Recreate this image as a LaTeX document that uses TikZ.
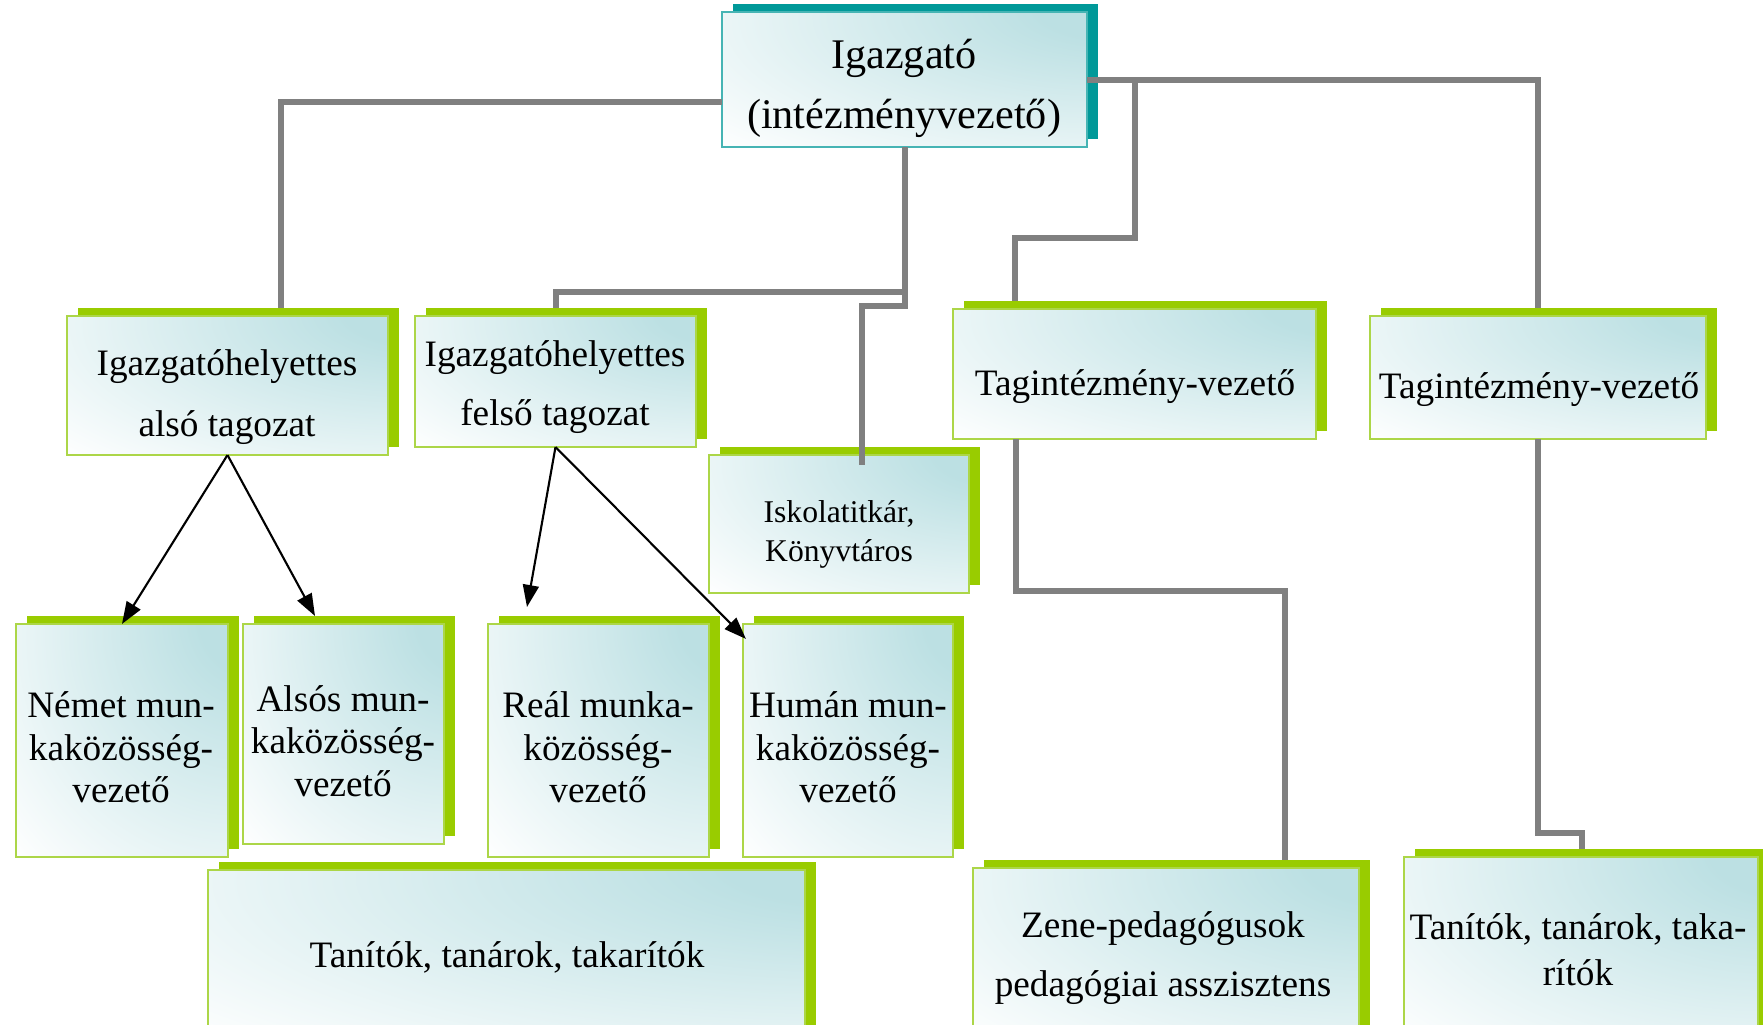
\documentclass[tikz,border=0pt]{standalone}
\usepackage{fontspec}
\setmainfont{Liberation Serif}
\usetikzlibrary{arrows.meta,calc}
\definecolor{shgreen}{HTML}{99CC00}
\definecolor{edgegreen}{RGB}{172,214,72}
\definecolor{shteal}{HTML}{009999}
\definecolor{edgeteal}{RGB}{70,180,180}
\definecolor{tealfill}{RGB}{188,224,227}
\definecolor{linegray}{HTML}{808080}
\pgfdeclareradialshading{boxshade}{\pgfpoint{32bp}{28bp}}{color(0bp)=(tealfill); color(12bp)=(tealfill); color(66bp)=(white); color(220bp)=(white)}
\tikzset{
  frontbox/.style={shade, shading=boxshade, line width=0.7pt, inner sep=0pt, outer sep=0pt},
  shadowbox/.style={inner sep=0pt, outer sep=0pt},
  conn/.style={draw=linegray, line width=0.06cm, line join=miter},
  arr/.style={-{Triangle[length=0.22cm,width=0.16cm]}, line width=0.6pt, black},
  lbl/.style={anchor=base, inner sep=0pt, font=\fontsize{10.6}{12}\selectfont},
  lblbig/.style={lbl, font=\fontsize{12}{14}\selectfont},
  lblsmall/.style={lbl, font=\fontsize{9}{11}\selectfont}
}
% #1 name, #2 x1, #3 y1, #4 x2, #5 y2, #6 shadow colour, #7 edge colour
\newcommand\orgbox[7]{%
  \pgfmathsetmacro\bw{(#4-#2)/100}%
  \pgfmathsetmacro\bh{(#5-#3)/100}%
  \node[shadowbox, fill=#6, minimum width=\bw cm, minimum height=\bh cm] (#1-sh) at ({(#2+#4)/2+11},{(#3+#5)/2-8}) {};
  \node[frontbox, draw=#7, minimum width=\bw cm, minimum height=\bh cm] (#1) at ({(#2+#4)/2},{(#3+#5)/2}) {};
}
\begin{document}
\begin{tikzpicture}[x=0.01cm, y=-0.01cm]
\useasboundingbox (0,0) rectangle (1763,1025);
\clip (0,0) rectangle (1763,1025);

% boxes
\orgbox{igaz}{722}{12}{1087}{147}{shteal}{edgeteal}
\orgbox{ighA}{67}{316}{388}{455}{shgreen}{edgegreen}
\orgbox{ighF}{415}{316}{696}{447}{shgreen}{edgegreen}
\orgbox{isk}{709}{455}{969}{593}{shgreen}{edgegreen}
\orgbox{tagA}{953}{309}{1316}{439}{shgreen}{edgegreen}
\orgbox{tagB}{1370}{316}{1706}{439}{shgreen}{edgegreen}
\orgbox{nemet}{16}{624}{228}{857}{shgreen}{edgegreen}
\orgbox{alsos}{243}{624}{444}{844}{shgreen}{edgegreen}
\orgbox{real}{488}{624}{709}{857}{shgreen}{edgegreen}
\orgbox{human}{743}{624}{953}{857}{shgreen}{edgegreen}
\orgbox{tanB}{208}{870}{805}{1045}{shgreen}{edgegreen}
\orgbox{zene}{973}{868}{1359}{1045}{shgreen}{edgegreen}
\orgbox{tanR}{1404}{857}{1758}{1045}{shgreen}{edgegreen}

% texts
\node[lblbig] (t-igaz1) at (904,69) {Igazgató};
\node[lblbig] (t-igaz2) at (904,129) {(intézményvezető)};
\node[lbl] (t-ighA1) at (227,376) {Igazgatóhelyettes};
\node[lbl] (t-ighA2) at (227,437) {alsó tagozat};
\node[lbl] (t-ighF1) at (555,367) {Igazgatóhelyettes};
\node[lbl] (t-ighF2) at (555,426) {felső tagozat};
\node[lblsmall] (t-isk1) at (839,523) {Iskolatitkár,};
\node[lblsmall] (t-isk2) at (839,562) {Könyvtáros};
\node[lbl] (t-tagA) at (1135,396) {Tagintézmény-vezető};
\node[lbl] (t-tagB) at (1539,399) {Tagintézmény-vezető};
\node[lbl] (t-nem1) at (121,718) {Német mun-};
\node[lbl] (t-nem2) at (121,761) {kaközösség-};
\node[lbl] (t-nem3) at (121,803) {vezető};
\node[lbl] (t-als1) at (343,712) {Alsós mun-};
\node[lbl] (t-als2) at (343,754) {kaközösség-};
\node[lbl] (t-als3) at (343,797) {vezető};
\node[lbl] (t-rea1) at (598,718) {Reál munka-};
\node[lbl] (t-rea2) at (598,761) {közösség-};
\node[lbl] (t-rea3) at (598,803) {vezető};
\node[lbl] (t-hum1) at (848,718) {Humán mun-};
\node[lbl] (t-hum2) at (848,761) {kaközösség-};
\node[lbl] (t-hum3) at (848,803) {vezető};
\node[lbl] (t-tanB) at (507,968) {Tanítók, tanárok, takarítók};
\node[lbl] (t-zene1) at (1163,938) {Zene-pedagógusok};
\node[lbl] (t-zene2) at (1163,997) {pedagógiai asszisztens};
\node[lbl] (t-tanR1) at (1578,940) {Tanítók, tanárok, taka-};
\node[lbl] (t-tanR2) at (1578,985) {rítók};

% gray connectors
\draw[conn] (igaz.west |- 0,102) -| (281,0 |- ighA-sh.north);
\draw[conn] (igaz.south) |- (ighF.north |- 0,292) -- (ighF.north |- ighF-sh.north);
\draw[conn] (igaz.south) |- ([xshift=0.23cm]isk.north |- 0,306) -- ([xshift=0.23cm,yshift=-0.1cm]isk.north);
\draw[conn] (igaz.east |- 0,80) -| (tagB.north |- tagB-sh.north);
\draw[conn] (tagA.north |- 0,80) |- (1015,238) -- (1015,0 |- tagA-sh.north);
\draw[conn] (1016,0 |- tagA.south) |- (1285,591) -- (1285,0 |- zene-sh.north);
\draw[conn] (tagB.south) |- (1582,833) -- (1582,0 |- tanR-sh.north);

% black arrows
\draw[arr] (ighA.south) -- (nemet.north);
\draw[arr] (ighA.south) -- (315,616);
\draw[arr] (ighF.south) -- (527,607);
\draw[arr] (ighF.south) -- ([yshift=-0.15cm,xshift=0.03cm]human.north west);
\end{tikzpicture}
\end{document}
